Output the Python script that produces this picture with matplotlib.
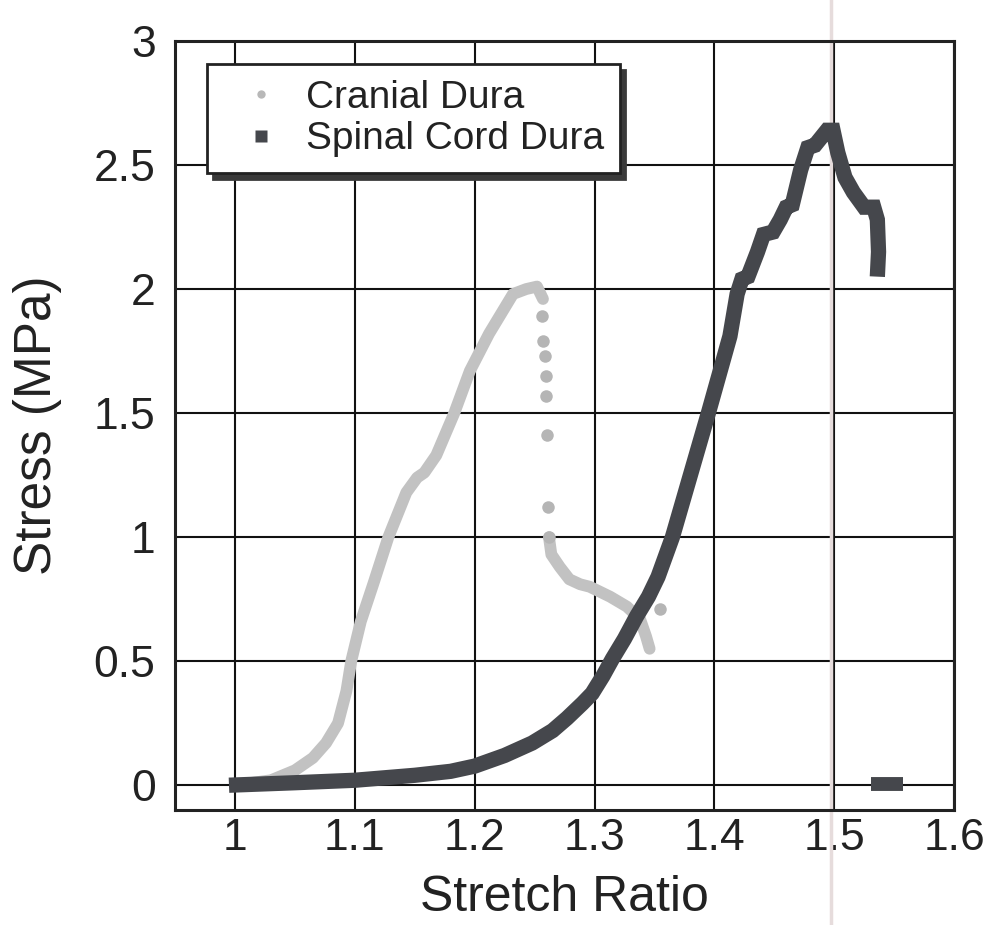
import matplotlib
matplotlib.use("Agg")
import matplotlib.pyplot as plt
from matplotlib.lines import Line2D

plt.rcParams["font.family"] = ["Liberation Sans", "DejaVu Sans"]

# cranial dura: rising part, isolated points at failure, residual tail
cranial_x = [1.00, 1.03, 1.05, 1.065, 1.076, 1.086, 1.093, 1.097, 1.105, 1.116,
             1.128, 1.143, 1.152, 1.158, 1.168, 1.183, 1.196, 1.212, 1.232,
             1.243, 1.252, 1.257]
cranial_y = [0.0, 0.02, 0.06, 0.11, 0.17, 0.25, 0.38, 0.50, 0.66, 0.82,
             1.00, 1.18, 1.24, 1.26, 1.33, 1.50, 1.67, 1.82, 1.98,
             2.00, 2.01, 1.96]
cranial_drop_x = [1.2564, 1.2569, 1.2584, 1.2592, 1.2598, 1.2606, 1.2612, 1.262, 1.355]
cranial_drop_y = [1.89, 1.79, 1.73, 1.65, 1.57, 1.41, 1.12, 1.00, 0.71]
cranial_tail_x = [1.262, 1.264, 1.271, 1.279, 1.288, 1.296, 1.313, 1.327,
                  1.338, 1.343, 1.346]
cranial_tail_y = [1.00, 0.93, 0.88, 0.83, 0.81, 0.80, 0.76, 0.72,
                  0.67, 0.60, 0.55]

# spinal cord dura
spinal_x = [0.995, 1.05, 1.10, 1.15, 1.18, 1.20, 1.225, 1.248, 1.265, 1.277,
            1.29, 1.298, 1.307, 1.315, 1.325, 1.335, 1.345, 1.353, 1.365,
            1.38, 1.395, 1.413, 1.419, 1.423, 1.428, 1.436, 1.441, 1.449,
            1.455, 1.460, 1.465, 1.472, 1.478, 1.484, 1.494, 1.499, 1.503,
            1.509, 1.516, 1.525, 1.533, 1.536, 1.537, 1.536]
spinal_y = [0.0, 0.01, 0.02, 0.04, 0.056, 0.077, 0.12, 0.17, 0.22, 0.27,
            0.33, 0.37, 0.44, 0.51, 0.59, 0.68, 0.76, 0.84, 1.00,
            1.25, 1.50, 1.81, 1.98, 2.04, 2.05, 2.15, 2.22, 2.23,
            2.28, 2.33, 2.34, 2.48, 2.57, 2.58, 2.64, 2.64, 2.55,
            2.45, 2.39, 2.33, 2.33, 2.28, 2.15, 2.05]
spinal_end_x = [1.531, 1.557]
spinal_end_y = [0.005, 0.005]

x_ticks = [1, 1.1, 1.2, 1.3, 1.4, 1.5, 1.6]
x_labels = ["1", "1.1", "1.2", "1.3", "1.4", "1.5", "1.6"]
y_ticks = [0, 0.5, 1, 1.5, 2, 2.5, 3]
y_labels = ["0", "0.5", "1", "1.5", "2", "2.5", "3"]

gray = "#c2c2c2"
dark = "#45474c"
text_color = "#222222"


def main():
    fig = plt.figure(figsize=(9.94, 9.25), dpi=100)
    ax = fig.add_axes([0.1761, 0.1243, 0.7837, 0.8314])

    ax.set_xlim(0.95, 1.6)
    ax.set_ylim(-0.1, 3.0)
    ax.set_xticks(x_ticks)
    ax.set_xticklabels(x_labels)
    ax.set_yticks(y_ticks)
    ax.set_yticklabels(y_labels)
    ax.grid(True, color="#111111", linewidth=1.5)
    ax.set_axisbelow(True)
    ax.tick_params(length=0, labelsize=32, labelcolor=text_color)
    ax.tick_params(axis="x", pad=6)
    ax.tick_params(axis="y", pad=14)
    for s in ax.spines.values():
        s.set_linewidth(2.2)
        s.set_color("#222222")

    # faint scanner streak near x = 1.5
    ax.axvline(1.4975, ymin=-0.15, ymax=1.06, color="#e6dcdc", lw=2.5,
               clip_on=False, zorder=1)

    ax.plot(cranial_x, cranial_y, color=gray, lw=8.5, solid_capstyle="round",
            zorder=3)
    ax.plot(cranial_tail_x, cranial_tail_y, color=gray, lw=8.5,
            solid_capstyle="round", zorder=3)
    ax.plot(cranial_drop_x, cranial_drop_y, "o", color="#b5b5b5", ms=9,
            mec="none", zorder=3)

    ax.plot(spinal_x, spinal_y, color=dark, lw=11, solid_capstyle="butt",
            solid_joinstyle="miter", zorder=4)
    ax.plot(spinal_end_x, spinal_end_y, color=dark, lw=10,
            solid_capstyle="butt", zorder=4)

    ax.set_xlabel("Stretch Ratio", fontsize=36, color=text_color)
    ax.set_ylabel("Stress (MPa)", fontsize=37, color=text_color)
    ax.xaxis.set_label_coords(0.5, -0.084)
    ax.yaxis.set_label_coords(-0.145, 0.5)

    handles = [
        Line2D([], [], ls="none", marker="o", ms=6, color="#b8b8b8", mec="none"),
        Line2D([], [], ls="none", marker="s", ms=8, color=dark, mec="none"),
    ]
    leg = ax.legend(handles, ["Cranial Dura", "Spinal Cord Dura"],
                    loc="upper left", bbox_to_anchor=(0.041, 0.970),
                    borderaxespad=0, fontsize=28, frameon=True,
                    fancybox=False, edgecolor="#222222", framealpha=1,
                    handlelength=2.0, handletextpad=0.15, labelspacing=0.15,
                    borderpad=0.4,
                    shadow={"ox": 4, "oy": -4, "color": "#3a3a3a", "alpha": 1})
    leg.get_frame().set_linewidth(2)
    for t in leg.get_texts():
        t.set_color(text_color)

    fig.savefig("out.png", dpi=100, facecolor="white")


if __name__ == "__main__":
    main()
